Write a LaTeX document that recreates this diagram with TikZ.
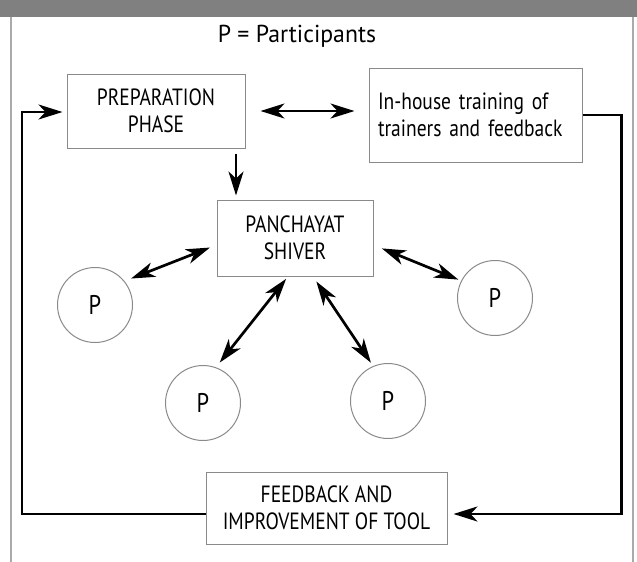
\documentclass[tikz,border=0pt]{standalone}
\usepackage{fontspec}
\setmainfont{PT Sans}[FakeStretch=0.83]
\newfontfamily\titlefont{PT Sans}[FakeStretch=0.97]
\usetikzlibrary{arrows.meta}
\definecolor{bandgrey}{HTML}{808080}
\definecolor{boxgrey}{HTML}{8A8A8A}
\definecolor{framegrey}{HTML}{AAAAAA}
\tikzset{
  boxnode/.style={draw=boxgrey, line width=1pt, inner sep=0pt, align=center,
    font=\fontsize{23.5}{27}\selectfont},
  pnode/.style={circle, draw=boxgrey, line width=1pt, minimum size=75pt, inner sep=0pt,
    font=\fontsize{27}{30}\selectfont},
  tipA/.tip={Stealth[length=24pt,width=15pt,inset=7pt]},
  flow/.style={line width=2.7pt, -tipA},
  dbl/.style={line width=2.7pt, tipA-tipA},
  loopline/.style={line width=2.7pt},
}
\begin{document}
\begin{tikzpicture}[x=1pt,y=-1pt]
\useasboundingbox (0,0) rectangle (637,562);
% frame
\fill[bandgrey] (0,0) rectangle (637,17);
\draw[framegrey, line width=1.5pt] (11,17) -- (11,562);
\draw[framegrey, line width=1.5pt] (633,17) -- (633,562);
% title
\node[anchor=base, font=\titlefont\fontsize{24.5}{28}\selectfont] (legend) at (297,42) {P = Participants};
% boxes
\node[boxnode, minimum width=178pt, minimum height=74pt] (prep) at (156,111) {PREPARATION\\PHASE};
\node[boxnode, align=left, text width=195pt, inner xsep=9pt, minimum height=94pt] (inh) at (475.5,115) {In-house training of\\trainers and feedback};
\node[boxnode, minimum width=156pt, minimum height=76pt] (pan) at (295,238) {PANCHAYAT\\SHIVER};
\node[boxnode, minimum width=241pt, minimum height=72pt] (fb) at (326.5,508) {FEEDBACK AND\\IMPROVEMENT OF TOOL};
% participants
\node[pnode] (pl) at (95,305) {P};
\node[pnode] (pr) at (495,298) {P};
\node[pnode] (pbl) at (203,403) {P};
\node[pnode] (pbr) at (388,401) {P};
% connectors
\draw[dbl] ([xshift=15pt]prep.east) -- ([xshift=-14pt]inh.west |- prep.east);
\coordinate (dtop) at ([xshift=80pt,yshift=-5pt]prep.south);
\draw[flow] (dtop) -- ([yshift=4pt]dtop |- pan.north);
% right loop
\coordinate (rc1) at ([xshift=39pt]inh.east);
\coordinate (rc2) at (rc1 |- 0,514);
\draw[loopline, -tipA, line join=miter] (inh.east) -- (rc1) -- (rc2) -- ([xshift=6pt]fb.east |- rc2);
% left loop
\coordinate (lc1) at (22,514);
\coordinate (lc2) at (22,112);
\draw[loopline, -tipA, line join=miter] (fb.west |- lc1) -- (lc1) -- (lc2) -- ([xshift=-4pt]prep.west |- lc2);
% participant arrows
\draw[dbl, shorten <=7pt, shorten >=7pt] ([yshift=-7pt]pan.west) -- (pl.39);
\draw[dbl, shorten <=9pt, shorten >=3pt] ([yshift=-7pt]pan.east) -- (pr.153);
\draw[dbl, shorten <=3pt, shorten >=6pt] ([xshift=-7pt]pan.south) -- (pbl.70);
\draw[dbl, shorten <=6pt, shorten >=4pt] ([xshift=18pt]pan.south) -- (pbr.113);
\end{tikzpicture}
\end{document}
